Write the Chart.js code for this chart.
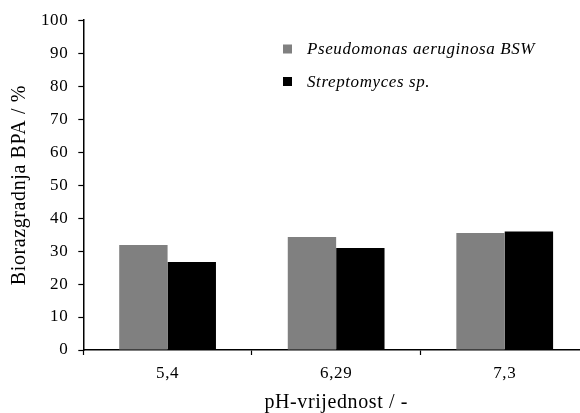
<!DOCTYPE html>
<html>
<head>
<meta charset="utf-8">
<script src="https://cdn.jsdelivr.net/npm/chart.js@4"></script>
<style>
  html, body { margin: 0; padding: 0; background: #fff; overflow: hidden; }
  #wrap { position: absolute; left: 0; top: 0; width: 592px; height: 413px; }
</style>
</head>
<body>
<div id="wrap"><canvas id="chart"></canvas></div>
<script>
const categories = ['5,4', '6,29', '7,3'];
const pseudomonas = [31.8, 34.3, 35.5];
const streptomyces = [26.7, 30.9, 35.9];
const seriesNames = ['Pseudomonas aeruginosa BSW', 'Streptomyces sp.'];
const yTicks = [0, 10, 20, 30, 40, 50, 60, 70, 80, 90, 100];

const serif = '"Liberation Serif", "DejaVu Serif", serif';

// the reference text is set a bit wide, so spread the letters slightly
const wideText = {
    id: 'wideText',
    beforeLayout(chart) { chart.ctx.letterSpacing = '0.6px'; },
    beforeDraw(chart) { chart.ctx.letterSpacing = '0.6px'; }
};

// legend drawn inside the plot, top right
const innerLegend = {
    id: 'innerLegend',
    afterDraw(chart) {
        const ctx = chart.ctx;
        const x = 283, y0 = 49;
        ctx.save();
        chart.data.datasets.forEach((ds, i) => {
            const y = y0 + i * 32.5;
            ctx.fillStyle = ds.backgroundColor;
            ctx.fillRect(x, y - 4.5, 9, 9);
            ctx.fillStyle = '#000';
            ctx.font = 'italic 17px ' + serif;
            ctx.textBaseline = 'middle';
            ctx.fillText(ds.label, x + 24, y + 1);
        });
        ctx.restore();
    }
};

new Chart(document.getElementById('chart').getContext('2d'), {
    type: 'bar',
    data: {
        labels: categories,
        datasets: [
            { label: seriesNames[0], data: pseudomonas, backgroundColor: '#808080', borderWidth: 0 },
            { label: seriesNames[1], data: streptomyces, backgroundColor: '#000000', borderWidth: 0 }
        ]
    },
    options: {
        responsive: true,
        maintainAspectRatio: false,
        animation: false,
        layout: { padding: { top: 15, right: 3, bottom: 0, left: 10 } },
        plugins: {
            legend: { display: false },
            tooltip: { enabled: false }
        },
        datasets: { bar: { categoryPercentage: 0.574, barPercentage: 1 } },
        scales: {
            y: {
                min: 0, max: 100,
                afterBuildTicks: (axis) => { axis.ticks = yTicks.map(v => ({ value: v })); },
                ticks: { color: '#000', padding: 10, font: { family: serif, size: 17 } },
                grid: { drawOnChartArea: false, drawTicks: true, tickLength: 5, tickColor: '#000', tickWidth: 1.2 },
                border: { display: true, color: '#000', width: 1.5 },
                title: { display: true, text: 'Biorazgradnja BPA / %', color: '#000', font: { family: serif, size: 20, lineHeight: 1 }, padding: { top: 0, bottom: 1 } }
            },
            x: {
                ticks: { color: '#000', padding: 10, font: { family: serif, size: 17, lineHeight: 1 } },
                grid: { drawOnChartArea: false, drawTicks: true, tickLength: 5, tickColor: '#000', tickWidth: 1.2, offset: true },
                border: { display: true, color: '#000', width: 1.5 },
                title: { display: true, text: 'pH-vrijednost / -', color: '#000', font: { family: serif, size: 20, lineHeight: 1 }, padding: { top: 1, bottom: 0 } }
            }
        }
    },
    plugins: [wideText, innerLegend]
});
</script>
</body>
</html>
